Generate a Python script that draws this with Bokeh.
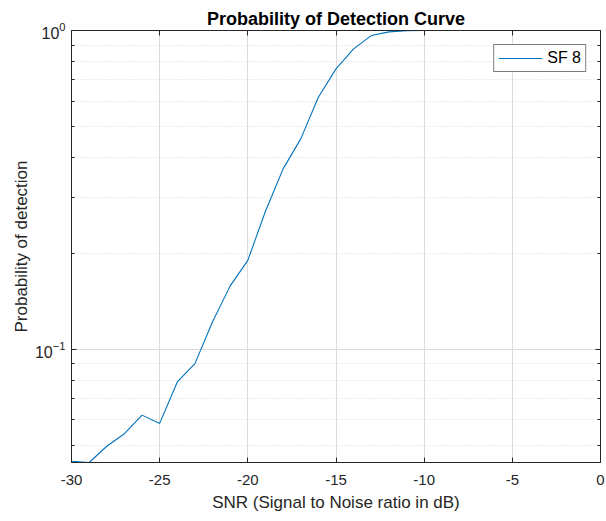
from bokeh.plotting import figure
from bokeh.models import (FixedTicker, LogAxis, LinearAxis, Legend, LegendItem,
                          Range1d, Title)
from bokeh.embed import file_html
from bokeh.resources import INLINE

snr = [-30, -29, -28, -27, -26, -25, -24, -23, -22, -21, -20, -19, -18, -17, -16,
       -15, -14, -13, -12, -11, -10, -9, -8, -7, -6, -5, -4, -3, -2, -1, 0]
pd = [0.0445, 0.0441, 0.0496, 0.0543, 0.0621, 0.0585, 0.0789, 0.0901, 0.122, 0.158,
      0.190, 0.271, 0.368, 0.457, 0.617, 0.758, 0.876, 0.964, 0.990, 0.998,
      1.0, 1.0, 1.0, 1.0, 1.0, 1.0, 1.0, 1.0, 1.0, 1.0, 1.0]
x_ticks = [-30, -25, -20, -15, -10, -5, 0]
x_tick_labels = ["-30", "-25", "-20", "-15", "-10", "-5", "0"]
y_ticks = [0.1, 1.0]
y_minor = [0.05, 0.06, 0.07, 0.08, 0.09, 0.2, 0.3, 0.4, 0.5, 0.6, 0.7, 0.8, 0.9]
title_text = "Probability of Detection Curve"
series_name = "SF 8"

FONT = "Liberation Sans"
AX = "#262626"

p = figure(width=606, height=521, y_axis_type="log", output_backend="svg",
           toolbar_location=None, x_range=Range1d(-30, 0), y_range=Range1d(0.0441, 1.0),
           min_border_left=71, min_border_right=6, min_border_top=30,
           min_border_bottom=59)
p.title = Title(text=title_text, align="center", text_font=FONT,
                text_font_size="18px", text_font_style="bold", text_color="black",
                offset=0, standoff=4)

r = p.line(snr, pd, line_color="#0072BD", line_width=1.1)

xt = FixedTicker(ticks=x_ticks)
yt = FixedTicker(ticks=y_ticks, minor_ticks=y_minor)

p.xaxis.ticker = xt
p.yaxis.ticker = yt
p.xaxis.major_label_overrides = {t: s for t, s in zip(x_ticks, x_tick_labels)}

for ax in [p.xaxis[0], p.yaxis[0]]:
    ax.axis_line_color = AX
    ax.major_tick_line_color = AX
    ax.minor_tick_line_color = AX
    ax.major_tick_in = 5
    ax.major_tick_out = 0
    ax.minor_tick_in = 3
    ax.minor_tick_out = 0
    ax.major_label_text_font = FONT
    ax.major_label_text_color = AX
    ax.axis_label_text_font = FONT
    ax.axis_label_text_font_size = "17px"
    ax.axis_label_text_font_style = "normal"
    ax.axis_label_text_color = AX

p.xaxis.major_label_text_font_size = "15px"
p.yaxis.major_label_text_font_size = "16px"
p.xaxis.axis_label = "SNR (Signal to Noise ratio in dB)"
p.yaxis.axis_label = "Probability of detection"
p.xaxis.major_label_standoff = 12
p.yaxis.major_label_standoff = 6
p.xaxis.axis_label_standoff = 5
p.yaxis.axis_label_standoff = 1

# box axes (ticks only)
top = LinearAxis(ticker=xt, major_label_text_color=None, major_tick_in=5,
                 major_tick_out=0, minor_tick_line_color=None,
                 axis_line_color=AX, major_tick_line_color=AX)
right = LogAxis(ticker=yt, major_label_text_color=None, major_tick_in=5,
                major_tick_out=0, minor_tick_in=3, minor_tick_out=0,
                axis_line_color=AX, major_tick_line_color=AX, minor_tick_line_color=AX)
p.add_layout(top, "above")
p.add_layout(right, "right")

p.xgrid.ticker = xt
p.ygrid.ticker = yt
p.xgrid.grid_line_color = "#dcdcdc"
p.ygrid.grid_line_color = "#dcdcdc"
p.ygrid.minor_grid_line_color = "#d8d8d8"
p.ygrid.minor_grid_line_dash = "1 2"
p.outline_line_color = AX

legend = Legend(items=[LegendItem(label=series_name, renderers=[r])],
                location="top_right", border_line_color="black", border_line_width=1,
                label_text_font=FONT, label_text_font_size="16px", label_text_color="black",
                glyph_width=44, glyph_height=14, padding=4, margin=14, spacing=0,
                label_standoff=5, background_fill_alpha=1)
p.add_layout(legend)

open("out.html", "w").write(file_html(p, INLINE))
